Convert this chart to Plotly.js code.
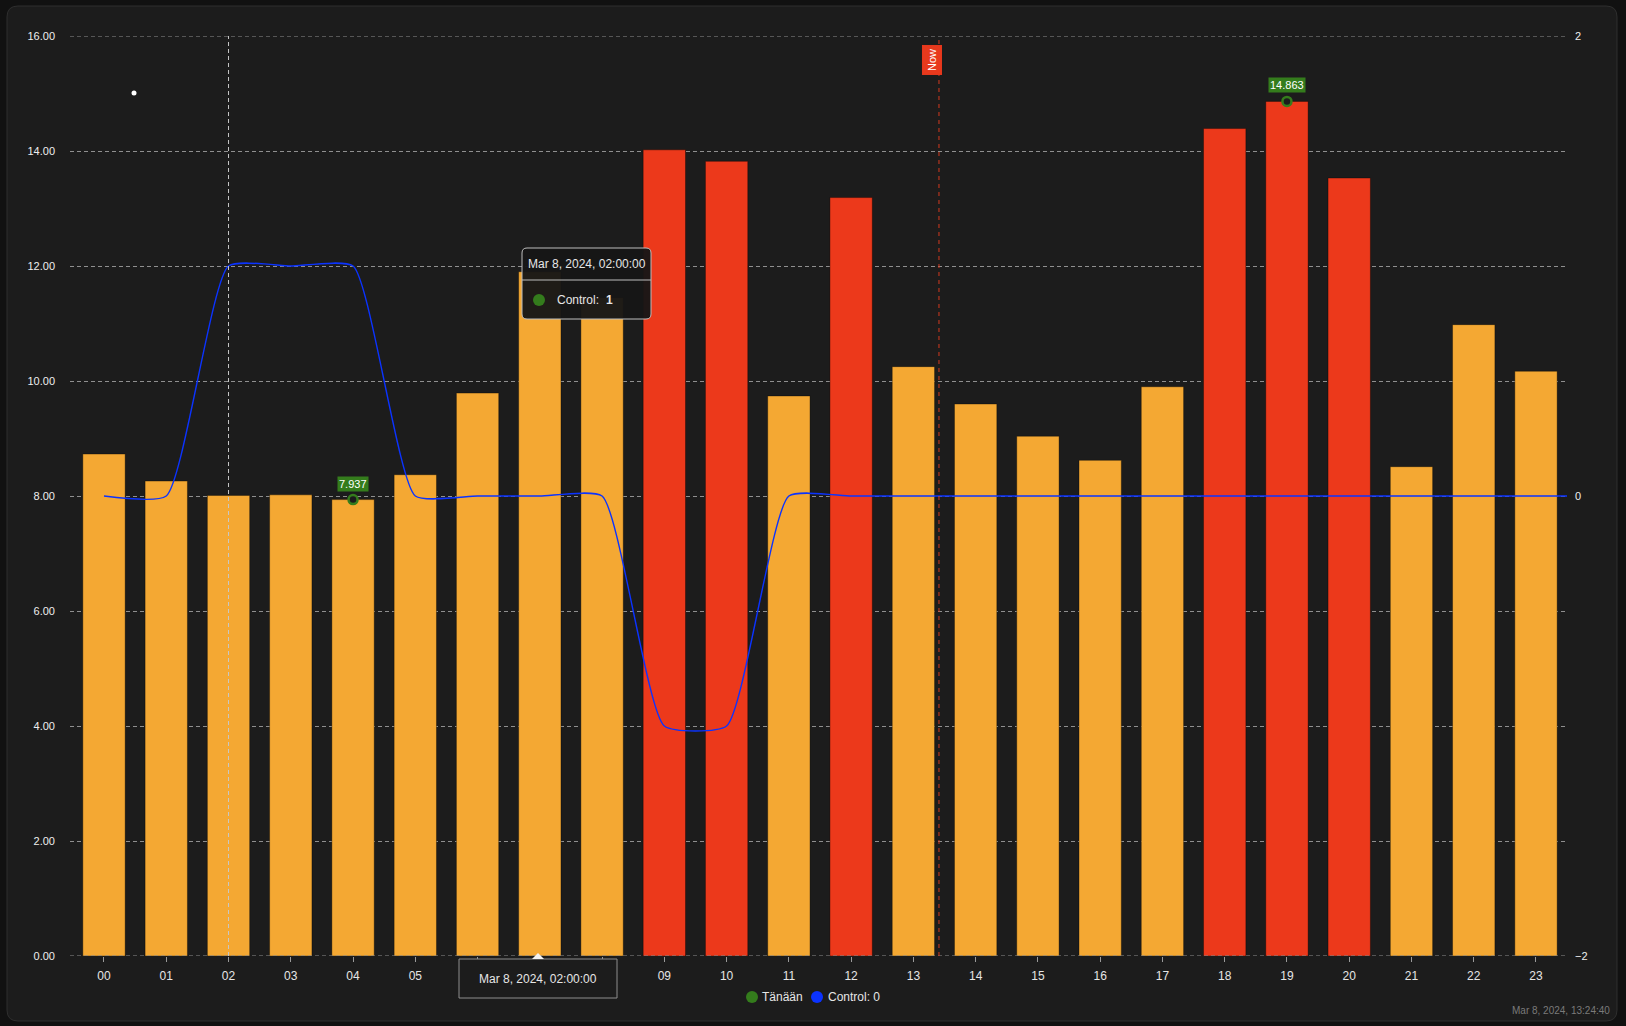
<!DOCTYPE html>
<html>
<head>
<meta charset="utf-8">
<script src="https://cdn.plot.ly/plotly-3.0.1.min.js"></script>
<style>
html,body{margin:0;padding:0;background:#111111;}
#chart{width:1626px;height:1026px;}
</style>
</head>
<body>
<div id="chart"></div>
<script>
// ---- data ----
const hourLabels = ["00","01","02","03","04","05","06","07","08","09","10","11","12","13","14","15","16","17","18","19","20","21","22","23"];
const hours = [0,1,2,3,4,5,6,7,8,9,10,11,12,13,14,15,16,17,18,19,20,21,22,23];
const prices = [8.73, 8.26, 8.01, 8.02, 7.937, 8.37, 9.79, 11.90, 11.45, 14.02, 13.82, 9.74, 13.19, 10.25, 9.60, 9.04, 8.62, 9.90, 14.39, 14.863, 13.53, 8.51, 10.98, 10.17];
const controlHours = [0,1,2,3,4,5,6,7,8,9,10,11,12,13,14,15,16,17,18,19,20,21,22,23,24];
const control = [0,0,1,1,1,0,0,0,0,-1,-1,0,0,0,0,0,0,0,0,0,0,0,0,0,0];
const leftTicks = [0,2,4,6,8,10,12,14,16];
const rightTicks = [-2,0,2];
const highThreshold = 12;
const nowHour = 13 + 24/60 + 40/3600;   // 13:24:40
const hoverHour = 2;
const hoverText = "Mar 8, 2024, 02:00:00";
const stampText = "Mar 8, 2024, 13:24:40";

// ---- styling ----
const ORANGE = "#f4a833", RED = "#ec391b", GREEN = "#347c1c", BLUE = "#0b33ff";
const FONT = "'Liberation Sans', Arial, Helvetica, sans-serif";
const GRID = "#8f8f8f", GRIDDASH = "4px,3px";

// pixel helpers for decorations (plot area 70..1567 x 36..956)
const L = 70, R = 1567, T = 36, B = 956, W = R - L, H = B - T;
const px = x => (x - L) / W;
const py = y => (B - y) / H;

const barColors = prices.map(v => v >= highThreshold ? RED : ORANGE);
let iMin = 0, iMax = 0;
prices.forEach((v,i)=>{ if(v<prices[iMin]) iMin=i; if(v>prices[iMax]) iMax=i; });

const traces = [
  {
    type: "bar", x: hours, y: prices, width: 0.68,
    marker: {color: barColors, line: {color: "rgba(0,0,0,0.35)", width: 1}},
    showlegend: false, hoverinfo: "skip", yaxis: "y"
  },
  {
    type: "scatter", mode: "lines", x: controlHours, y: control, yaxis: "y2",
    line: {color: BLUE, width: 1.4, shape: "spline", smoothing: 0.5},
    showlegend: false, hoverinfo: "skip"
  },
  {
    type: "scatter", mode: "markers", x: [hours[iMin], hours[iMax]], y: [prices[iMin], prices[iMax]],
    marker: {size: 9, color: "#1c1c1c", line: {color: GREEN, width: 2.5}},
    showlegend: false, hoverinfo: "skip", yaxis: "y"
  }
];

// rounded rectangle path in paper coords
function roundRect(x0,y0,x1,y1,r){
  return "M"+px(x0+r)+","+py(y0)+" L"+px(x1-r)+","+py(y0)+
    " Q"+px(x1)+","+py(y0)+" "+px(x1)+","+py(y0+r)+
    " L"+px(x1)+","+py(y1-r)+" Q"+px(x1)+","+py(y1)+" "+px(x1-r)+","+py(y1)+
    " L"+px(x0+r)+","+py(y1)+" Q"+px(x0)+","+py(y1)+" "+px(x0)+","+py(y1-r)+
    " L"+px(x0)+","+py(y0+r)+" Q"+px(x0)+","+py(y0)+" "+px(x0+r)+","+py(y0)+" Z";
}

const shapes = [
  // card
  {type:"path", xref:"paper", yref:"paper", path: roundRect(7,6,1617,1021,11),
   fillcolor:"#1c1c1c", line:{color:"#2e2e2e", width:1}, layer:"below"},
  // boundary grid lines (top 16.00 and bottom 0.00)
  {type:"line", xref:"paper", yref:"y", x0:0, x1:1, y0:leftTicks[leftTicks.length-1], y1:leftTicks[leftTicks.length-1],
   line:{color:GRID, width:1, dash:GRIDDASH}, layer:"below"},
  {type:"line", xref:"paper", yref:"y", x0:0, x1:1, y0:leftTicks[0], y1:leftTicks[0],
   line:{color:GRID, width:1, dash:GRIDDASH}, layer:"above"},
  // hover crosshair
  {type:"line", xref:"x", yref:"paper", x0:hoverHour, x1:hoverHour, y0:0, y1:1,
   line:{color:"#c8c8c8", width:1, dash:"4px,3px"}, layer:"above"},
  // now line
  {type:"line", xref:"x", yref:"paper", x0:nowHour, x1:nowHour, y0:0, y1:1,
   line:{color:"#d23a1f", width:1, dash:"4px,4px"}, layer:"above"},
  // little white dot
  {type:"circle", xref:"paper", yref:"paper", x0:px(131.5), x1:px(136.5), y0:py(90.5), y1:py(95.5),
   fillcolor:"#ffffff", line:{width:0}},
  // top tooltip
  {type:"path", xref:"paper", yref:"paper", path: roundRect(522,248,651,319,5),
   fillcolor:"rgba(22,22,22,0.96)", line:{color:"#bdbdbd", width:1}, layer:"above"},
  {type:"line", xref:"paper", yref:"paper", x0:px(522), x1:px(651), y0:py(280), y1:py(280),
   line:{color:"#bdbdbd", width:1}, layer:"above"},
  {type:"circle", xref:"paper", yref:"paper", x0:px(533), x1:px(545), y0:py(294), y1:py(306),
   fillcolor:GREEN, line:{width:0}, layer:"above"},
  // bottom x tooltip
  {type:"rect", xref:"paper", yref:"paper", x0:px(459), x1:px(617), y0:py(959), y1:py(998),
   fillcolor:"#1c1c1c", line:{color:"#8d8d8d", width:1}, layer:"above"},
  {type:"path", xref:"paper", yref:"paper",
   path:"M"+px(532)+","+py(959)+" L"+px(538)+","+py(953)+" L"+px(544)+","+py(959)+" Z",
   fillcolor:"#f2f2f2", line:{width:0}, layer:"above"},
  // legend dots
  {type:"circle", xref:"paper", yref:"paper", x0:px(746), x1:px(758), y0:py(991), y1:py(1003),
   fillcolor:GREEN, line:{width:0}},
  {type:"circle", xref:"paper", yref:"paper", x0:px(811), x1:px(823), y0:py(991), y1:py(1003),
   fillcolor:BLUE, line:{width:0}}
];

function note(x, y, text, opts){
  return Object.assign({x:px(x), y:py(y), xref:"paper", yref:"paper", text:text, showarrow:false,
    xanchor:"center", yanchor:"middle", font:{color:"#e6e6e6", size:12, family:FONT}}, opts||{});
}

const annotations = [
  // min / max labels
  {x:hours[iMin], y:prices[iMin], xref:"x", yref:"y", text:String(prices[iMin]), showarrow:false,
   xanchor:"center", yanchor:"middle", yshift:16, bgcolor:GREEN, borderpad:1,
   font:{color:"#ffffff", size:11, family:FONT}},
  {x:hours[iMax], y:prices[iMax], xref:"x", yref:"y", text:String(prices[iMax]), showarrow:false,
   xanchor:"center", yanchor:"middle", yshift:16, bgcolor:GREEN, borderpad:1,
   font:{color:"#ffffff", size:11, family:FONT}},
  // now label
  {x:nowHour, y:py(60), xref:"x", yref:"paper", text:"Now", textangle:-90, showarrow:false,
   xanchor:"center", yanchor:"middle", xshift:-7, bgcolor:"#e8391d", bordercolor:"#e8391d", borderpad:3,
   font:{color:"#ffffff", size:11, family:FONT}},
  // tooltip texts
  note(586.5, 264, hoverText),
  note(555, 300, "Control:", {xanchor:"left"}),
  note(604, 300, "<b>1</b>", {xanchor:"left"}),
  note(538, 978.5, hoverText),
  // legend texts
  note(760, 997, "Tänään", {xanchor:"left"}),
  note(826, 997, "Control: 0", {xanchor:"left"}),
  // timestamp
  note(1612, 1011, stampText, {xanchor:"right", font:{color:"#7a7a7a", size:10, family:FONT}})
];

const layout = {
  width: 1626, height: 1026,
  margin: {l: L, r: 1626 - R, t: T, b: 1026 - B, pad: 0},
  paper_bgcolor: "#111111",
  plot_bgcolor: "rgba(0,0,0,0)",
  font: {family: FONT, color: "#e6e6e6", size: 12},
  showlegend: false,
  xaxis: {
    range: [-0.546, 23.498], tickvals: hours, ticktext: hourLabels,
    showgrid: false, zeroline: false, showline: false,
    ticks: "outside", ticklen: 5, tickcolor: "#9a9a9a", tickwidth: 1,
    tickfont: {size: 12, color: "#e6e6e6"}, ticklabelstandoff: 4, fixedrange: true
  },
  yaxis: {
    range: [0, 16], tickvals: leftTicks, tickformat: ".2f",
    showgrid: true, gridcolor: GRID, griddash: GRIDDASH, gridwidth: 1,
    zeroline: false, showline: false, ticks: "",
    tickfont: {size: 11, color: "#eeeeee"}, ticklabelstandoff: 14, fixedrange: true
  },
  yaxis2: {
    range: [-2, 2], tickvals: rightTicks, overlaying: "y", side: "right",
    showgrid: false, zeroline: false, showline: false, ticks: "",
    tickfont: {size: 11, color: "#eeeeee"}, ticklabelstandoff: 7, fixedrange: true
  },
  shapes: shapes,
  annotations: annotations
};

Plotly.newPlot("chart", traces, layout, {displayModeBar: false, staticPlot: true});
</script>
</body>
</html>
